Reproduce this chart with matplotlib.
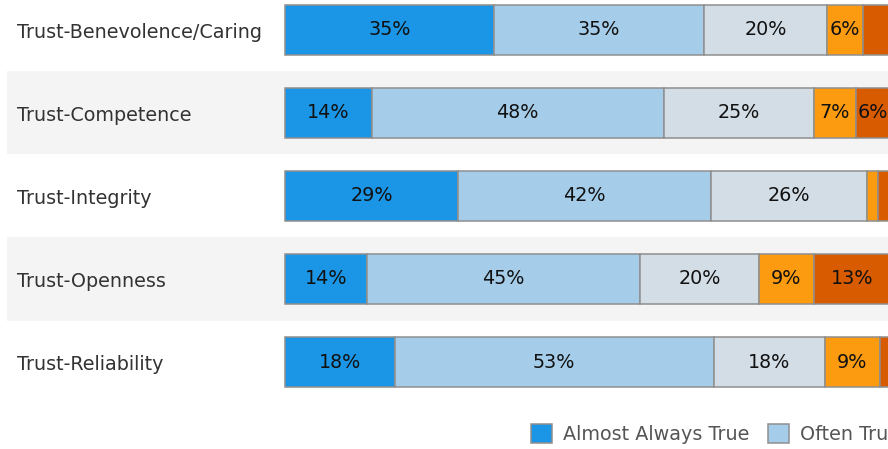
import matplotlib.pyplot as plt
import matplotlib.transforms as mtransforms
from matplotlib.patches import Patch
import numpy as np

# data (percent of responses)
dimensions = ['Trust-Benevolence/Caring', 'Trust-Competence', 'Trust-Integrity',
              'Trust-Openness', 'Trust-Reliability']
responses = ['Almost Always True', 'Often True', 'Sometimes True', 'Rarely True', 'Almost Never True']
almost_always = [34.6, 14.3, 28.6, 13.6, 18.1]
often = [34.6, 48.3, 41.8, 45.1, 52.8]
sometimes = [20.4, 24.8, 25.8, 19.6, 18.3]
rarely = [5.9, 6.9, 1.8, 9.1, 9.1]
almost_never = [4.5, 5.7, 2.0, 12.6, 1.7]

series = [almost_always, often, sometimes, rarely, almost_never]
colors_list = ['#1b96e6', '#a5cdea', '#d3dde6', '#fc9a10', '#d95b00']

W, H = 888, 449
px_per_pct = 6.05
x0 = 285
fs = 13.8
fig = plt.figure(figsize=(W / 100, H / 100), dpi=100)
ax = fig.add_axes([0, 0, 1, 1])
ax.set_xlim(-x0 / px_per_pct, (W - x0) / px_per_pct)
row_px = 83
ax.set_ylim((H - 30) / row_px, -30 / row_px)
ax.axis('off')

y = np.arange(len(dimensions))

# banded rows
for i in y:
    if i % 2 == 1:
        ax.axhspan(i - 0.5, i + 0.5, xmin=7 / W, xmax=1, color='#f4f4f4', zorder=0, lw=0)

left = np.zeros(len(dimensions))
for vals, c in zip(series, colors_list):
    vals = np.array(vals)
    ax.barh(y, vals, left=left, height=0.6, color=c, edgecolor='#8f8f8f', linewidth=1.1, zorder=2)
    for yi, l, v in zip(y, left, vals):
        if v >= 5:
            ax.text(l + v / 2, yi, '%.0f%%' % v, ha='center', va='center',
                    fontsize=fs, color='#111111', zorder=3)
    left += vals

trans = mtransforms.blended_transform_factory(ax.transAxes, ax.transData)
for yi, name in zip(y, dimensions):
    ax.text(17 / W, yi + 0.03, name, transform=trans, ha='left', va='center',
            fontsize=fs, color='#333333')

handles = [Patch(facecolor=c, edgecolor='#8f8f8f', linewidth=1.1) for c in colors_list]
ax.legend(handles, responses, ncol=5, loc='center left',
          bbox_to_anchor=(531 / W, 1 - 434 / H), frameon=False, fontsize=fs,
          labelcolor='#555555', handlelength=1.1, handleheight=1.1, borderpad=0,
          borderaxespad=0, handletextpad=0.55, columnspacing=1.0)

fig.savefig('out.png', dpi=100)
